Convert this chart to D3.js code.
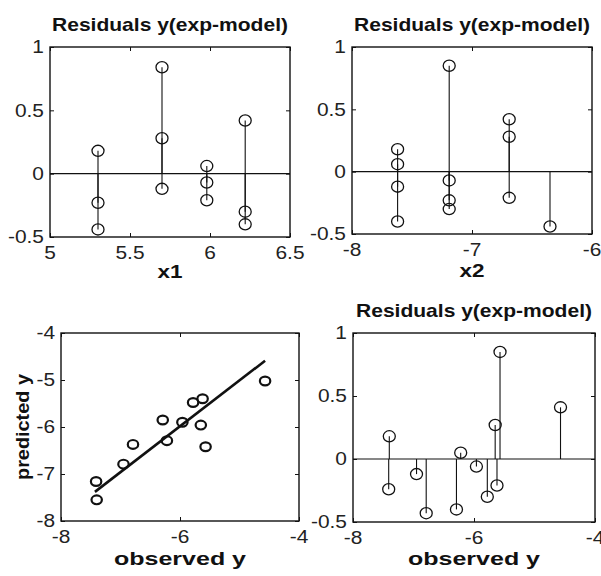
<!DOCTYPE html>
<html lang="en">
<head>
   <meta charset="utf-8">
   <title>Residuals</title>
   <script src="https://d3js.org/d3.v7.min.js"></script>
   <style>
      body { margin: 0; background: #fff; }
      text { font-family: "Liberation Sans", Arial, sans-serif; fill: #111; }
   </style>
</head>
<body>
<svg id="fig" width="601" height="576"></svg>
<script>
   // residuals vs x1
   var x1Pos = [5.3, 5.3, 5.3, 5.7, 5.7, 5.7, 5.98, 5.98, 5.98, 6.22, 6.22, 6.22];
   var x1Res = [0.18, -0.23, -0.44, 0.84, 0.28, -0.12, 0.06, -0.07, -0.21, 0.42, -0.30, -0.40];

   // residuals vs x2
   var x2Pos = [-7.62, -7.62, -7.62, -7.62, -7.19, -7.19, -7.19, -7.19, -6.69, -6.69, -6.69, -6.35];
   var x2Res = [0.18, 0.06, -0.12, -0.40, 0.85, -0.07, -0.23, -0.30, 0.42, 0.28, -0.21, -0.44];

   // observed vs predicted, and residuals vs observed
   var obsY  = [-7.41, -7.40, -6.95, -6.79, -6.29, -6.22, -5.96, -5.78, -5.62, -5.65, -5.57, -4.57];
   var predY = [-7.16, -7.55, -6.79, -6.37, -5.85, -6.29, -5.90, -5.48, -5.40, -5.96, -6.42, -5.02];
   var obsRes = [-0.24, 0.18, -0.12, -0.43, -0.40, 0.05, -0.06, -0.30, -0.21, 0.27, 0.85, 0.41];

   // fitted line end points
   var fitX = [-7.43, -4.57];
   var fitY = [-7.38, -4.59];

   var resTicks = [-0.5, 0, 0.5, 1];
   var x1Ticks = [5, 5.5, 6, 6.5];
   var x2Ticks = [-8, -7, -6];
   var obsTicks = [-8, -6, -4];
   var predTicks = [-8, -7, -6, -5, -4];

   var title = "Residuals y(exp-model)";

   var svg = d3.select("#fig");

   // stretch text horizontally like the scanned figure
   function stretch(sel, k) {
      sel.each(function() {
         var w = this.getComputedTextLength();
         d3.select(this).attr("textLength", w * k).attr("lengthAdjust", "spacingAndGlyphs");
      });
   }

   function makePanel(p) {
      var x = d3.scaleLinear().domain(p.xDomain).range([p.left, p.right]);
      var y = d3.scaleLinear().domain(p.yDomain).range([p.bottom, p.top]);
      var g = svg.append("g");

      // box
      g.append("rect")
         .attr("x", p.left).attr("y", p.top)
         .attr("width", p.right - p.left).attr("height", p.bottom - p.top)
         .attr("fill", "none").attr("stroke", "#111").attr("stroke-width", 1.4);

      // inward ticks on all sides
      g.append("g").attr("transform", "translate(0," + p.bottom + ")")
         .call(d3.axisTop(x).tickValues(p.xTicks).tickSize(4).tickFormat(""))
         .call(function(a){ a.select(".domain").remove(); });
      g.append("g").attr("transform", "translate(0," + p.top + ")")
         .call(d3.axisBottom(x).tickValues(p.xTicks).tickSize(4).tickFormat(""))
         .call(function(a){ a.select(".domain").remove(); });
      g.append("g").attr("transform", "translate(" + p.left + ",0)")
         .call(d3.axisRight(y).tickValues(p.yTicks).tickSize(4).tickFormat(""))
         .call(function(a){ a.select(".domain").remove(); });
      g.append("g").attr("transform", "translate(" + p.right + ",0)")
         .call(d3.axisLeft(y).tickValues(p.yTicks).tickSize(4).tickFormat(""))
         .call(function(a){ a.select(".domain").remove(); });
      g.selectAll(".tick line").attr("stroke", "#111");

      // tick labels
      var xl = g.selectAll(".xlab").data(p.xTicks).enter().append("text")
         .attr("x", function(d){ return x(d); })
         .attr("y", p.bottom + 22)
         .attr("text-anchor", "middle")
         .style("font-size", "18px").style("fill", "#222")
         .text(function(d){ return d; });
      stretch(xl, 1.16);
      var yl = g.selectAll(".ylab").data(p.yTicks).enter().append("text")
         .attr("x", p.left - 6)
         .attr("y", function(d){ return y(d); })
         .attr("dy", "0.36em")
         .attr("text-anchor", "end")
         .style("font-size", "18px").style("fill", "#222")
         .text(function(d){ return d; });
      stretch(yl, 1.16);

      if (p.title) {
         g.append("text")
            .attr("x", (p.left + p.right) / 2).attr("y", p.top - 16)
            .attr("text-anchor", "middle")
            .attr("textLength", 236).attr("lengthAdjust", "spacingAndGlyphs")
            .style("font-size", "19px").style("font-weight", "bold")
            .text(p.title);
      }
      if (p.xLabel) {
         g.append("text")
            .attr("x", (p.left + p.right) / 2).attr("y", p.bottom + p.xLabelGap)
            .attr("text-anchor", "middle")
            .attr("textLength", p.xLabelLen).attr("lengthAdjust", "spacingAndGlyphs")
            .style("font-size", "19px").style("font-weight", "bold")
            .text(p.xLabel);
      }
      if (p.yLabel) {
         g.append("text")
            .attr("transform", "translate(29," + (p.top + p.bottom) / 2 + ") rotate(-90)")
            .attr("text-anchor", "middle")
            .attr("textLength", p.yLabelLen).attr("lengthAdjust", "spacingAndGlyphs")
            .style("font-size", "19px").style("font-weight", "bold")
            .text(p.yLabel);
      }
      return { g: g, x: x, y: y };
   }

   function stemPlot(P, xs, ys) {
      P.g.append("line")
         .attr("x1", P.x.range()[0]).attr("x2", P.x.range()[1])
         .attr("y1", P.y(0)).attr("y2", P.y(0))
         .attr("stroke", "#111").attr("stroke-width", 1.2);
      P.g.selectAll(".stem").data(ys).enter().append("line")
         .attr("x1", function(d, i){ return P.x(xs[i]); })
         .attr("x2", function(d, i){ return P.x(xs[i]); })
         .attr("y1", P.y(0))
         .attr("y2", function(d){ return P.y(d); })
         .attr("stroke", "#111").attr("stroke-width", 1.1);
      P.g.selectAll(".mk").data(ys).enter().append("ellipse")
         .attr("cx", function(d, i){ return P.x(xs[i]); })
         .attr("cy", function(d){ return P.y(d); })
         .attr("rx", 6).attr("ry", 5.6)
         .attr("fill", "none").attr("stroke", "#111").attr("stroke-width", 1.3);
   }

   // top left
   var A = makePanel({ left: 50, right: 290, top: 47, bottom: 237,
      xDomain: [5, 6.5], yDomain: [-0.5, 1], xTicks: x1Ticks, yTicks: resTicks,
      title: title, xLabel: "x1", xLabelLen: 25, xLabelGap: 41 });
   stemPlot(A, x1Pos, x1Res);

   // top right
   var B = makePanel({ left: 352, right: 592, top: 47, bottom: 234,
      xDomain: [-8, -6], yDomain: [-0.5, 1], xTicks: x2Ticks, yTicks: resTicks,
      title: title, xLabel: "x2", xLabelLen: 25, xLabelGap: 43 });
   stemPlot(B, x2Pos, x2Res);

   // bottom left
   var C = makePanel({ left: 61, right: 299, top: 333, bottom: 521,
      xDomain: [-8, -4], yDomain: [-8, -4], xTicks: obsTicks, yTicks: predTicks,
      xLabel: "observed y", xLabelLen: 132, xLabelGap: 44,
      yLabel: "predicted y", yLabelLen: 106 });
   C.g.append("line")
      .attr("x1", C.x(fitX[0])).attr("y1", C.y(fitY[0]))
      .attr("x2", C.x(fitX[1])).attr("y2", C.y(fitY[1]))
      .attr("stroke", "#111").attr("stroke-width", 2.6);
   C.g.selectAll(".pt").data(obsY).enter().append("ellipse")
      .attr("cx", function(d){ return C.x(d); })
      .attr("cy", function(d, i){ return C.y(predY[i]); })
      .attr("rx", 5.2).attr("ry", 4.4)
      .attr("fill", "none").attr("stroke", "#111").attr("stroke-width", 2.2);

   // bottom right
   var D = makePanel({ left: 353, right: 595, top: 333, bottom: 522,
      xDomain: [-8, -4], yDomain: [-0.5, 1], xTicks: obsTicks, yTicks: resTicks,
      title: title, xLabel: "observed y", xLabelLen: 132, xLabelGap: 43 });
   stemPlot(D, obsY, obsRes);
</script>
</body>
</html>
